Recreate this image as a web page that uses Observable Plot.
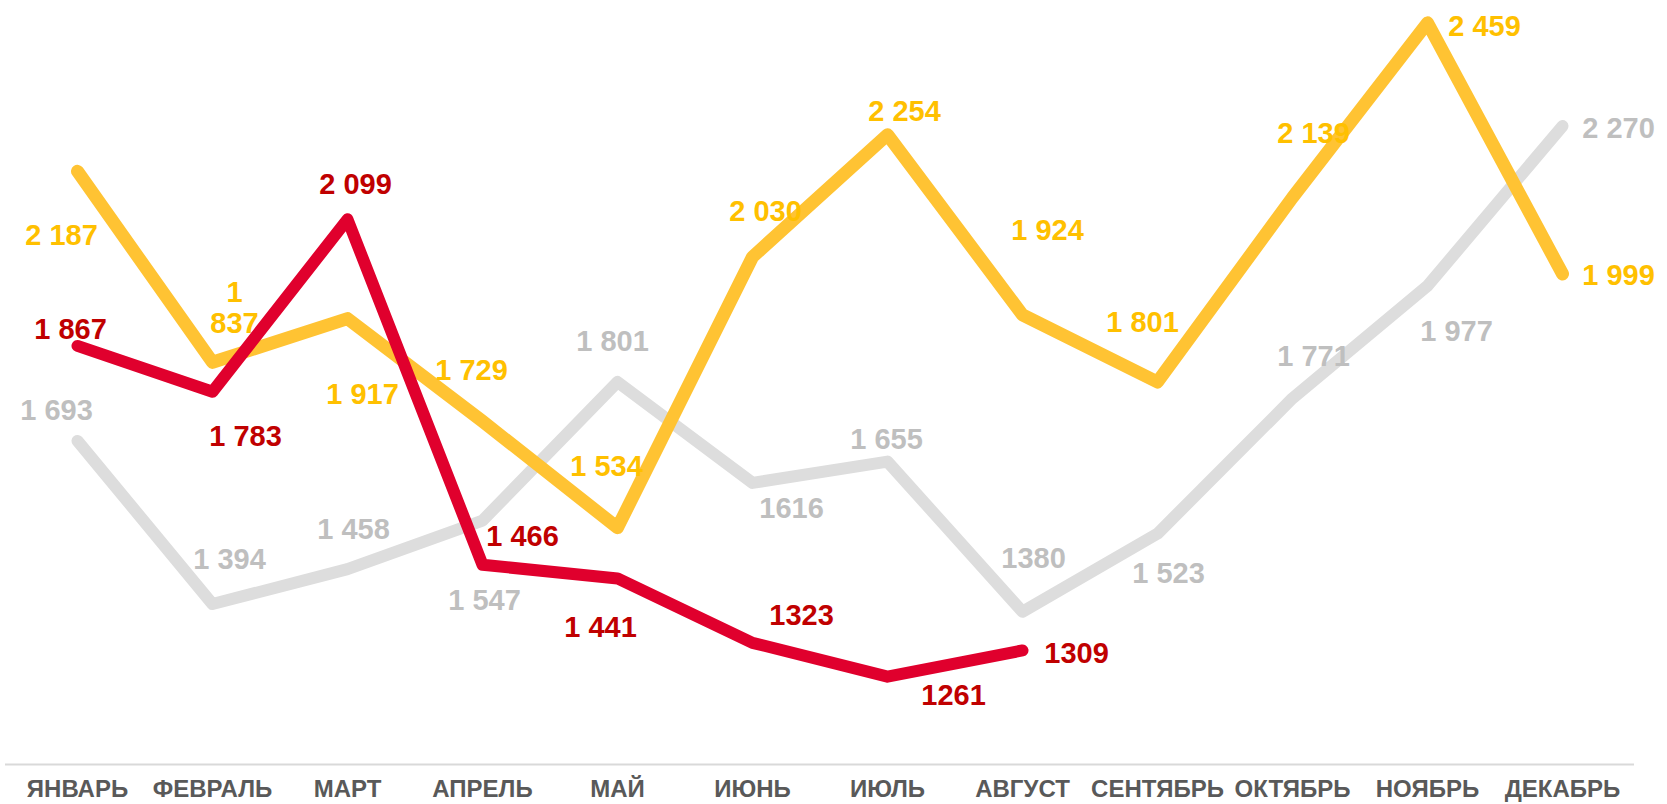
<!DOCTYPE html>
<html>
<head>
<meta charset="utf-8">
<script src="https://cdn.jsdelivr.net/npm/d3@7"></script>
<script src="https://cdn.jsdelivr.net/npm/@observablehq/plot@0.6"></script>
<style>
  html, body { margin: 0; padding: 0; background: #fff; }
  #chart svg { display: block; }
</style>
</head>
<body>
<div id="chart"></div>
<script>
// ---- data ----
const months = ["ЯНВАРЬ","ФЕВРАЛЬ","МАРТ","АПРЕЛЬ","МАЙ","ИЮНЬ","ИЮЛЬ","АВГУСТ","СЕНТЯБРЬ","ОКТЯБРЬ","НОЯБРЬ","ДЕКАБРЬ"];
const grayValues   = [1693, 1394, 1458, 1547, 1801, 1616, 1655, 1380, 1523, 1771, 1977, 2270];
const yellowValues = [2187, 1837, 1917, 1729, 1534, 2030, 2254, 1924, 1801, 2139, 2459, 1999];
const redValues    = [1867, 1783, 2099, 1466, 1441, 1323, 1261, 1309];
const grayLabels   = ["1 693","1 394","1 458","1 547","1 801","1616","1 655","1380","1 523","1 771","1 977","2 270"];
const yellowLabels = ["2 187","1\n837","1 917","1 729","1 534","2 030","2 254","1 924","1 801","2 139","2 459","1 999"];
const redLabels    = ["1 867","1 783","2 099","1 466","1 441","1323","1261","1309"];

// ---- layout (label nudges in px, relative to each point) ----
const grayNudge   = [[-21,-31],[17,-45],[6,-40],[2,79],[-5,-41],[39,25],[-1,-23],[11,-54],[11,39],[21,-43],[29,45],[56,2]];
const yellowNudge = [[-16,63],[22,-55],[15,75],[-11,-51],[-11,-62],[13,-46],[17,-24],[25,-85],[-15,-60],[21,-65],[57,3],[56,1]];
const redNudge    = [[-7,-17],[33,44],[8,-36],[40,-29],[-17,48],[49,-28],[66,18],[54,2]];
const yDomain = [1100, 2500];
const FONT = "'Liberation Sans', Arial, Helvetica, sans-serif";

const toRows = (vals, labels) => vals.map((v, i) => ({month: months[i], value: v, label: labels[i]}));
const gray = toRows(grayValues, grayLabels);
const yellow = toRows(yellowValues, yellowLabels);
const red = toRows(redValues, redLabels);

function series(rows, nudge, lineColor, textColor, sw) {
  const marks = [Plot.line(rows, {x: "month", y: "value", stroke: lineColor, strokeWidth: sw,
    strokeLinecap: "round", strokeLinejoin: "round"})];
  rows.forEach((r, i) => {
    marks.push(Plot.text([r], {x: "month", y: "value", text: "label", dx: nudge[i][0], dy: nudge[i][1],
      fill: textColor, fontSize: 29, fontWeight: "bold", fontFamily: FONT, lineAnchor: "middle",
      lineHeight: 1.1, textAnchor: "middle"}));
  });
  return marks;
}

const chart = Plot.plot({
  width: 1667,
  height: 804,
  marginTop: 0,
  marginBottom: 40,
  marginLeft: 5,
  marginRight: 33,
  style: {fontFamily: FONT, background: "#fff"},
  x: {type: "point", domain: months, padding: 0.5},
  y: {domain: yDomain, axis: null},
  marks: [
    Plot.ruleY([yDomain[0]], {stroke: "#d9d9d9", strokeWidth: 2}),
    Plot.axisX({tickSize: 0, tickPadding: 15, fontSize: 24, fontWeight: "bold", fill: "#595959",
      fontFamily: FONT, label: null}),
    ...series(gray, grayNudge, "#dddddd", "#bfbfbf", 12),
    ...series(yellow, yellowNudge, "#ffc333", "#ffc000", 13),
    ...series(red, redNudge, "#e0002d", "#c00000", 12)
  ]
});
document.getElementById("chart").appendChild(chart);
</script>
</body>
</html>
